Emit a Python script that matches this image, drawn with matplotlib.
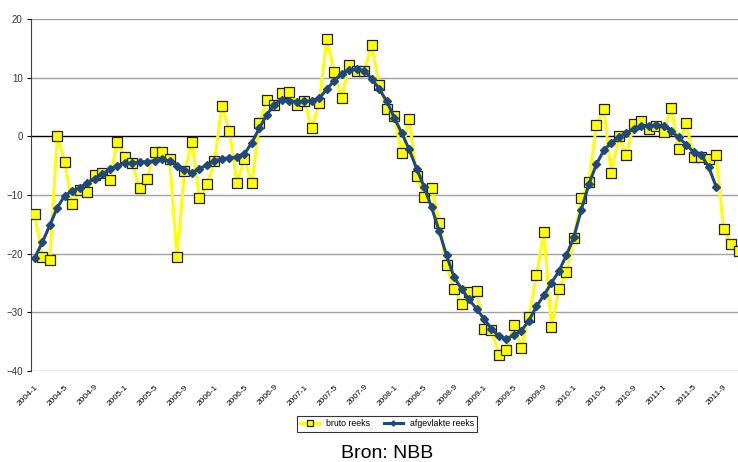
import matplotlib
matplotlib.use("Agg")
import matplotlib.pyplot as plt

plt.rcParams['font.family'] = ['Liberation Sans Narrow', 'Liberation Sans', 'DejaVu Sans']

# monthly values, 2004-1 onward
bruto = [-13.3, -20.5, -21.1, 0.0, -4.3, -11.6, -9.2, -9.5, -6.6, -6.3,
         -7.5, -0.9, -3.5, -4.6, -8.8, -7.2, -2.6, -2.6, -3.9, -20.6,
         -6.0, -0.9, -10.6, -8.2, -4.2, 5.2, 0.9, -7.9, -3.9, -8.0,
         2.2, 6.1, 5.4, 7.4, 7.6, 5.4, 6.0, 1.4, 5.7, 16.6,
         11.0, 6.6, 12.1, 11.1, 11.1, 15.6, 8.7, 4.7, 3.4, -2.9,
         3.0, -6.7, -10.3, -8.8, -14.8, -22.0, -26.1, -28.5, -26.6, -26.3,
         -32.8, -33.0, -37.2, -36.4, -32.2, -36.0, -30.8, -23.7, -16.3, -32.5,
         -26.0, -23.2, -17.3, -10.6, -7.8, 1.9, 4.6, -6.3, 0.0, -3.2,
         2.1, 2.6, 1.2, 1.7, 0.7, 4.9, -2.2, 2.3, -3.6, -3.6,
         -3.8, -3.2, -15.8, -18.3, -19.5]

afgevlakt = [-20.7, -18.1, -15.2, -12.2, -10.1, -9.3, -8.8, -7.9, -7.2, -6.5,
             -5.6, -5.0, -4.6, -4.6, -4.4, -4.3, -4.2, -3.9, -4.2, -5.0,
             -5.7, -6.2, -5.5, -4.9, -4.2, -3.8, -3.7, -3.5, -3.0, -1.1,
             1.4, 3.7, 5.4, 6.2, 6.0, 5.9, 6.0, 6.0, 6.5, 8.0,
             9.5, 10.7, 11.3, 11.4, 11.2, 9.8, 8.1, 6.0, 3.2, 0.6,
             -2.2, -5.5, -8.6, -12.1, -16.1, -20.3, -24.0, -26.0, -27.8, -29.4,
             -31.1, -32.8, -34.1, -34.5, -33.9, -33.1, -31.4, -29.0, -27.1, -25.0,
             -23.0, -20.3, -17.2, -12.5, -8.2, -4.8, -2.4, -1.1, -0.1, 0.6,
             1.2, 1.7, 1.8, 1.9, 1.8, 0.9, -0.2, -1.4, -2.7, -3.2,
             -5.2, -8.6]

maanden = [f"{2004 + i // 12}-{i % 12 + 1}" for i in range(len(bruto))]
tick_pos = list(range(0, len(bruto), 4))
tick_lab = [maanden[i] for i in tick_pos]

fig = plt.figure(figsize=(7.38, 4.62), dpi=100)
ax = fig.add_axes([0.042, 0.197, 0.975, 0.762])

for v in range(-40, 30, 10):
    ax.axhline(v, color='black' if v == 0 else '#a0a0a0', lw=1, zorder=1)

ax.plot(range(len(bruto)), bruto, color='#ffff00', lw=2.2, marker='s', ms=7.8,
        mfc='#ffff00', mec='#222222', mew=0.9, label='bruto reeks', zorder=3)
ax.plot(range(len(afgevlakt)), afgevlakt, color='#1f497d', lw=2.2, marker='D', ms=4.3,
        mfc='#1f497d', mec='#1f497d', label='afgevlakte reeks', zorder=4)

ax.set_xlim(-0.5, 95.6)
ax.set_ylim(-40, 20)
ax.set_yticks(range(-40, 30, 10))
ax.set_xticks(tick_pos)
ax.set_xticklabels(tick_lab, rotation=45, ha='right', rotation_mode='anchor', fontsize=6)
ax.tick_params(axis='x', length=0, pad=9)
ax.tick_params(axis='y', length=3, labelsize=7, direction='out', pad=3, labelcolor='#333333')
for s in ['top', 'right', 'bottom']:
    ax.spines[s].set_visible(False)
ax.spines['left'].set_color('#404040')

leg = fig.legend(loc='center', bbox_to_anchor=(387 / 738, 1 - 423.5 / 462), ncol=2,
                 fontsize=6.3, frameon=True, fancybox=False, edgecolor='black',
                 handlelength=2.2, columnspacing=1.5, borderpad=0.4, markerscale=0.6)
leg.get_frame().set_linewidth(0.8)

fig.text(387 / 738, 1 - 453 / 462, 'Bron: NBB', ha='center', va='center', fontsize=14)

fig.savefig('out.png', dpi=100)
